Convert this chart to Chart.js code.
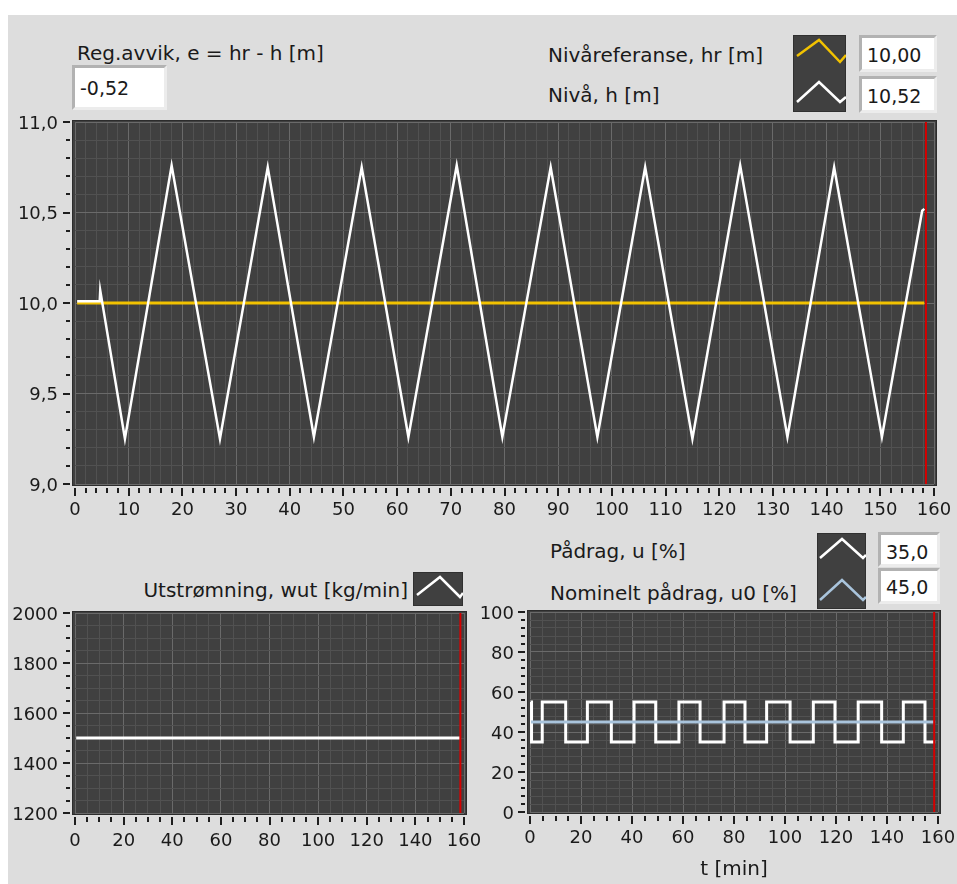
<!DOCTYPE html>
<html>
<head>
<meta charset="utf-8">
<script src="https://cdn.jsdelivr.net/npm/chart.js@4.4.1/dist/chart.umd.min.js"></script>
<style>
  body { margin: 0; background: #fff; width: 957px; height: 884px; overflow: hidden; font-family: 'DejaVu Sans', sans-serif; }
  #panel { position: absolute; left: 8px; top: 15px; width: 949px; height: 869px; background: #dddddd; }
  canvas { position: absolute; }
  .lbl { position: absolute; font-size: 20px; line-height: 24px; color: #1a1a1a; white-space: nowrap; }
  .num { position: absolute; box-sizing: border-box; background: #fff; border: 3px solid; border-color: #b2b2b2 #ececec #ececec #b2b2b2;
         font-size: 19px; line-height: 22px; padding-left: 5px; color: #1a1a1a; }
  .icon { position: absolute; background: #404040; border: 1px solid #303030; box-sizing: border-box; }
  .icon svg { position: absolute; left: -1px; top: -1px; }
</style>
</head>
<body>
<div id="panel"></div>

<div class="lbl" style="left:77px; top:41px;">Reg.avvik, e = hr - h [m]</div>
<div class="num" id="val-e" style="left:72px; top:65px; width:95px; height:45px; padding-top:9px;"></div>

<div class="lbl" style="left:548px; top:43px;">Nivåreferanse, hr [m]</div>
<div class="lbl" style="left:548px; top:83px;">Nivå, h [m]</div>
<div class="icon" style="left:793px; top:35px; width:53px; height:77px;">
  <svg width="53" height="77"><polyline points="4,21 26,5 47,27 53,20" fill="none" stroke="#f2c200" stroke-width="2.5"/>
  <polyline points="4,67 26,47 47,67 53,62" fill="none" stroke="#ffffff" stroke-width="2.5"/></svg>
</div>
<div class="num" id="val-hr" style="left:859px; top:35px; width:78px; height:37px; padding-top:6px;"></div>
<div class="num" id="val-h" style="left:859px; top:76px; width:78px; height:37px; padding-top:6px;"></div>

<div class="lbl" style="right:549px; top:578px;">Utstrømning, wut [kg/min]</div>
<div class="icon" style="left:413px; top:572px; width:50px; height:34px;">
  <svg width="50" height="34"><polyline points="4,23 27,5 47,25 50,21" fill="none" stroke="#ffffff" stroke-width="2.5"/></svg>
</div>

<div class="lbl" style="left:550px; top:539px;">Pådrag, u [%]</div>
<div class="lbl" style="left:550px; top:581px;">Nominelt pådrag, u0 [%]</div>
<div class="icon" style="left:817px; top:533px; width:49px; height:76px;">
  <svg width="49" height="76"><polyline points="3,25 25,6 46,25 49,22" fill="none" stroke="#ffffff" stroke-width="2.5"/>
  <polyline points="3,67 25,47 46,67 49,64" fill="none" stroke="#a9c4dc" stroke-width="2.5"/></svg>
</div>
<div class="num" id="val-u" style="left:878px; top:532px; width:62px; height:35px; padding-top:6px;"></div>
<div class="num" id="val-u0" style="left:878px; top:568px; width:62px; height:36px; padding-top:5px;"></div>

<canvas id="levelChart" width="957" height="430" style="left:0; top:100px;"></canvas>
<canvas id="flowChart" width="480" height="294" style="left:0; top:590px;"></canvas>
<canvas id="uChart" width="487" height="294" style="left:470px; top:590px;"></canvas>

<script>
// --- indicator values ---
var errValue = '-0,52';
var refValue = '10,00';
var levelValue = '10,52';
var uValue = '35,0';
var u0Value = '45,0';

// --- level chart (Nivå, Nivåreferanse) ---
var levelT = [0.4, 4.6, 4.7, 9.3, 18.0, 27.0, 35.9, 44.5, 53.4, 62.1, 71.1, 79.6, 88.6, 97.3, 106.2, 115.0, 123.9, 132.7, 141.4, 150.3, 157.8, 158.2];
var levelH = [10.01, 10.01, 10.07, 9.25, 10.76, 9.25, 10.75, 9.26, 10.75, 9.26, 10.76, 9.26, 10.75, 9.26, 10.75, 9.25, 10.76, 9.26, 10.75, 9.26, 10.51, 10.52];
var refT = [0.4, 158.2];
var refH = [10.0, 10.0];
var levelYMajor = [9.0, 9.5, 10.0, 10.5, 11.0];
var levelYLabels = ['9,0', '9,5', '10,0', '10,5', '11,0'];
var levelXMajor = [0, 10, 20, 30, 40, 50, 60, 70, 80, 90, 100, 110, 120, 130, 140, 150, 160];

// --- outflow chart (Utstrømning) ---
var flowT = [0.5, 158.5];
var flowW = [1500, 1500];
var flowYMajor = [1200, 1400, 1600, 1800, 2000];

// --- control signal chart (Pådrag, nominelt pådrag) ---
var uT = [0.3, 0.6, 4.8, 14.0, 22.5, 31.9, 40.8, 49.3, 58.4, 66.7, 76.1, 84.3, 92.8, 102.0, 111.1, 119.6, 128.7, 137.9, 146.4, 154.9, 158.9];
var uVals = [55, 35, 55, 35, 55, 35, 55, 35, 55, 35, 55, 35, 55, 35, 55, 35, 55, 35, 55, 35, 35];
var u0T = [0.4, 158.9];
var u0Vals = [45, 45];
var uYMajor = [0, 20, 40, 60, 80, 100];
var bottomXMajor = [0, 20, 40, 60, 80, 100, 120, 140, 160];

// current time cursor (red line)
var tNow = 158.5;

document.getElementById('val-e').textContent = errValue;
document.getElementById('val-hr').textContent = refValue;
document.getElementById('val-h').textContent = levelValue;
document.getElementById('val-u').textContent = uValue;
document.getElementById('val-u0').textContent = u0Value;

Chart.defaults.font.family = "'DejaVu Sans', sans-serif";
Chart.defaults.font.size = 18;
Chart.defaults.color = '#1a1a1a';

function pts(xs, ys) {
  return xs.map(function (x, i) { return { x: x, y: ys[i] }; });
}

function isIn(list, v) {
  return list.some(function (m) { return Math.abs(m - v) < 1e-6; });
}

// plot background, frame and LabVIEW-like tick marks
var plotFrame = {
  id: 'plotFrame',
  beforeDraw: function (chart) {
    var a = chart.chartArea, ctx = chart.ctx;
    ctx.save();
    ctx.fillStyle = '#404040';
    ctx.fillRect(a.left - 2, a.top - 1, a.right - a.left + 4, a.bottom - a.top + 2);
    ctx.restore();
  },
  afterDraw: function (chart, args, opts) {
    var a = chart.chartArea, ctx = chart.ctx;
    ctx.save();
    ctx.strokeStyle = '#2c2c2c';
    ctx.lineWidth = 1;
    ctx.strokeRect(a.left - 2.5, a.top - 1.5, a.right - a.left + 5, a.bottom - a.top + 3);
    ctx.strokeStyle = '#1e1e1e';
    ctx.lineWidth = 2;
    var sx = chart.scales.x, sy = chart.scales.y;
    sx.ticks.forEach(function (t) {
      var px = Math.round(sx.getPixelForValue(t.value));
      var major = isIn(opts.xMajor, t.value);
      ctx.beginPath();
      ctx.moveTo(px, a.bottom + 4);
      ctx.lineTo(px, a.bottom + (major ? 12 : 9));
      ctx.stroke();
    });
    sy.ticks.forEach(function (t) {
      var py = Math.round(sy.getPixelForValue(t.value));
      var major = isIn(opts.yMajor, t.value);
      ctx.beginPath();
      ctx.moveTo(a.left - (major ? 12 : 9), py);
      ctx.lineTo(a.left - 5, py);
      ctx.stroke();
    });
    ctx.restore();
  }
};

function buildTicks(min, max, step) {
  return function (scale) {
    var n = Math.round((max - min) / step);
    var list = [];
    for (var i = 0; i <= n; i++) list.push({ value: Math.round((min + i * step) * 1000) / 1000 });
    scale.ticks = list;
  };
}

function makeScales(cfg) {
  return {
    x: {
      type: 'linear', min: cfg.xMin, max: cfg.xMax,
      afterBuildTicks: buildTicks(cfg.xMin, cfg.xMax, cfg.xStep),
      afterFit: function (s) { s.height = cfg.xHeight; s.paddingLeft = s.paddingRight = s.paddingTop = s.paddingBottom = 0; },
      border: { display: false },
      grid: {
        drawTicks: false,
        lineWidth: 1,
        color: function (c) { return isIn(cfg.xMajor, c.tick.value) ? '#6a6a6a' : '#515151'; }
      },
      ticks: {
        autoSkip: false, maxRotation: 0, padding: cfg.xPad, color: '#1a1a1a',
        callback: function (v) { return isIn(cfg.xMajor, v) ? String(v) : ''; }
      },
      title: cfg.xTitle ? { display: true, text: cfg.xTitle, color: '#1a1a1a', font: { size: 20 }, padding: { top: 0, bottom: 2 } } : { display: false }
    },
    y: {
      type: 'linear', min: cfg.yMin, max: cfg.yMax,
      afterBuildTicks: buildTicks(cfg.yMin, cfg.yMax, cfg.yStep),
      afterFit: function (s) { s.width = cfg.yWidth; s.paddingLeft = s.paddingRight = s.paddingTop = s.paddingBottom = 0; },
      border: { display: false },
      grid: {
        drawTicks: false,
        lineWidth: 1,
        color: function (c) { return isIn(cfg.yMajor, c.tick.value) ? '#6a6a6a' : '#515151'; }
      },
      ticks: {
        autoSkip: false, padding: cfg.yPad, labelOffset: 2, color: '#1a1a1a',
        callback: function (v) {
          var i = cfg.yMajor.findIndex(function (m) { return Math.abs(m - v) < 1e-6; });
          return i < 0 ? '' : (cfg.yLabels ? cfg.yLabels[i] : String(v));
        }
      }
    }
  };
}

function lineSet(data, color, width, stepped) {
  return { data: data, borderColor: color, borderWidth: width, pointRadius: 0, tension: 0, fill: false, stepped: stepped || false };
}

function makeChart(id, datasets, cfg, padding) {
  new Chart(document.getElementById(id), {
    type: 'line',
    data: { datasets: datasets },
    options: {
      responsive: false,
      animation: false,
      devicePixelRatio: 1,
      layout: { padding: padding },
      plugins: { legend: { display: false }, tooltip: { enabled: false }, plotFrame: { xMajor: cfg.xMajor, yMajor: cfg.yMajor } },
      scales: makeScales(cfg)
    },
    plugins: [plotFrame]
  });
}

// level chart: red cursor on top, then level (white), then reference (yellow)
makeChart('levelChart', [
  lineSet(pts([tNow, tNow], [9.0, 11.0]), '#d40000', 2),
  lineSet(pts(levelT, levelH), '#ffffff', 2.5),
  lineSet(pts(refT, refH), '#f2c200', 3)
], {
  xMin: 0, xMax: 160, xStep: 2, xMajor: levelXMajor, xHeight: 46, xPad: 16,
  yMin: 9, yMax: 11, yStep: 0.1, yMajor: levelYMajor, yLabels: levelYLabels, yWidth: 75, yPad: 17
}, { left: 0, right: 23, top: 22, bottom: 0 });

makeChart('flowChart', [
  lineSet(pts([tNow, tNow], [1200, 2000]), '#d40000', 2),
  lineSet(pts(flowT, flowW), '#ffffff', 3)
], {
  xMin: 0, xMax: 160, xStep: 5, xMajor: bottomXMajor, xHeight: 71, xPad: 18,
  yMin: 1200, yMax: 2000, yStep: 50, yMajor: flowYMajor, yWidth: 75, yPad: 17
}, { left: 0, right: 16, top: 23, bottom: 0 });

makeChart('uChart', [
  lineSet(pts([tNow, tNow], [0, 100]), '#d40000', 2),
  lineSet(pts(u0T, u0Vals), '#a9c4dc', 3),
  lineSet(pts(uT, uVals), '#ffffff', 3, true)
], {
  xMin: 0, xMax: 160, xStep: 5, xMajor: bottomXMajor, xHeight: 72, xPad: 16, xTitle: 't [min]',
  yMin: 0, yMax: 100, yStep: 4, yMajor: uYMajor, yWidth: 60, yPad: 16
}, { left: 0, right: 19, top: 22, bottom: 0 });
</script>
</body>
</html>
